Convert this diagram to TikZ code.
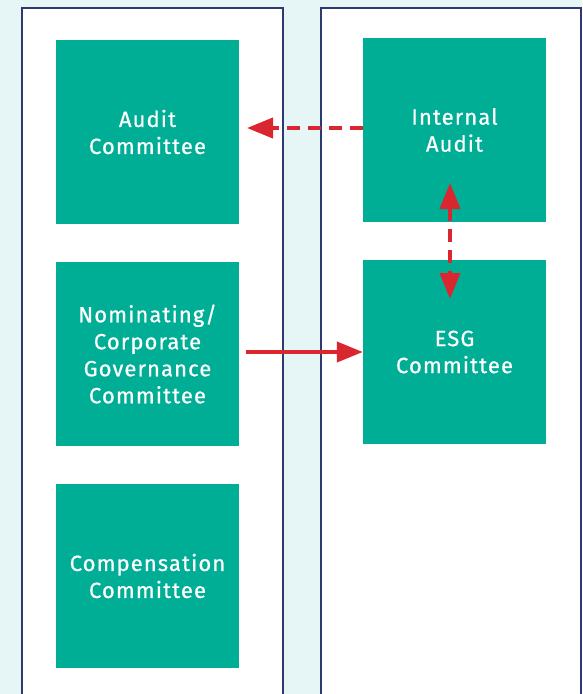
\documentclass[tikz,border=0pt]{standalone}
\usepackage{fontspec}
\setmainfont{Fira Sans}
\newfontfamily\unitfont[LetterSpace=5,FakeBold=0.6]{Fira Sans}
\usetikzlibrary{arrows.meta}
\definecolor{bgcyan}{HTML}{E6F5F5}
\definecolor{teal}{HTML}{00AE96}
\definecolor{navy}{HTML}{2E3A6E}
\definecolor{arrowred}{HTML}{D9262F}
\tikzset{
  x=1pt, y=-1pt,
  panel/.style={draw=navy, line width=1.2pt, fill=white},
  unit/.style={fill=teal, minimum width=183pt, minimum height=184pt,
    inner sep=0pt, text=white, align=center,
    font=\unitfont\fontsize{22}{27}\selectfont},
  link/.style={draw=arrowred, line width=4pt,
    -{Triangle[length=26pt,width=20pt]}},
  dashlink/.style={link, dash pattern=on 13pt off 8pt},
}
\begin{document}
\begin{tikzpicture}
\useasboundingbox (0,0) rectangle (582,694);
\clip (0,0) rectangle (582,694);
\fill[bgcyan] (0,0) rectangle (582,694);
% board-level and management-level panels
\draw[panel] (22,8) rectangle (283,720);
\draw[panel] (321,8) rectangle (581,720);
% committees
\node[unit] (audit) at (147.5,132) {Audit\\Committee};
\node[unit] (nom)   at (147.5,354) {Nominating/\\Corporate\\Governance\\Committee};
\node[unit] (comp)  at (147.5,576) {Compensation\\Committee};
\node[unit] (ia)    at (454.5,130) {Internal\\Audit};
\node[unit] (esg)   at (454.5,352) {ESG\\Committee};
% reporting lines
\draw[dashlink] (ia.west |- 0,128) -- (247,128);
\draw[link] (246,352) -- (esg.west |- 0,352);
\draw[dashlink, {Triangle[length=26pt,width=20pt]}-{Triangle[length=26pt,width=20pt]}] (450,183) -- (450,299);
\end{tikzpicture}
\end{document}
